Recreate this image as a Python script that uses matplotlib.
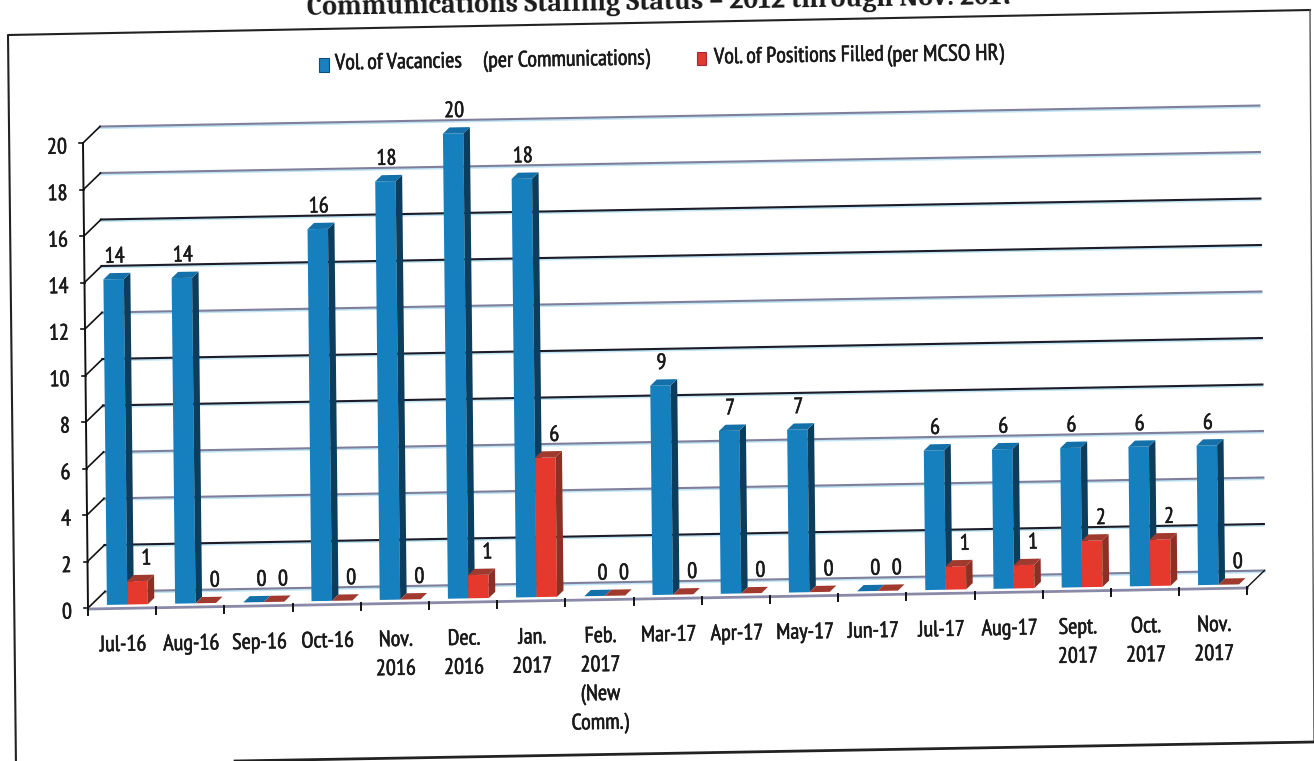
"""Communications staffing chart: vacancies against positions filled, drawn as skewed 3D columns."""

import matplotlib
matplotlib.use('Agg')
import matplotlib.pyplot as plt
import matplotlib.patheffects as pe
from matplotlib.patches import Polygon

months = ['Jul-16', 'Aug-16', 'Sep-16', 'Oct-16', 'Nov.\n2016', 'Dec.\n2016', 'Jan.\n2017',
          'Feb.\n2017\n(New\nComm.)', 'Mar-17', 'Apr-17', 'May-17', 'Jun-17', 'Jul-17', 'Aug-17',
          'Sept.\n2017', 'Oct.\n2017', 'Nov.\n2017']
vacancies = [14, 14, 0, 16, 18, 20, 18, 0, 9, 7, 7, 0, 6, 6, 6, 6, 6]
filled = [1, 0, 0, 0, 0, 1, 6, 0, 0, 0, 0, 0, 1, 1, 2, 2, 0]
y_ticks = list(range(0, 21, 2))
dark_grid = [2, 8, 10, 14, 16]

plt.rcParams['font.family'] = ['PT Sans Narrow', 'Liberation Sans', 'DejaVu Sans']

# The page was scanned slightly crooked, so everything goes through one projection
ORIGIN = (88.0, 608.0)
CAT_STEP = (68.2, -1.235)
VAL_STEP = (-0.25, -23.25)
DEPTH = (17.0, -16.5)
TILT = 1.0
TEXT = '#1a1a1a'
FS = 16


def project(cat, val=0.0, depth=0.0):
    x = ORIGIN[0] + cat * CAT_STEP[0] + val * VAL_STEP[0] + depth * DEPTH[0]
    y = ORIGIN[1] + cat * CAT_STEP[1] + val * VAL_STEP[1] + depth * DEPTH[1]
    return x, y


def draw_column(ax, cat, width, val, front, side, top):
    d0, d1 = 0.17, 0.55
    a = project(cat, 0, d0)
    b = project(cat + width, 0, d0)
    c = project(cat + width, val, d0)
    e = project(cat, val, d0)
    b2 = project(cat + width, 0, d1)
    c2 = project(cat + width, val, d1)
    e2 = project(cat, val, d1)
    if val > 0:
        ax.add_patch(Polygon([a, b, c, e], facecolor=front, edgecolor='none', zorder=5))
        ax.add_patch(Polygon([b, b2, c2, c], facecolor=side, edgecolor='none', zorder=5))
    ax.add_patch(Polygon([e, c, c2, e2], facecolor=top, edgecolor='none', zorder=5))


def tilted(ax, x, y, s, **kw):
    kw.setdefault('fontsize', FS)
    kw.setdefault('va', 'center')
    kw.setdefault('zorder', 6)
    t = ax.text(x, y, s, rotation=TILT, rotation_mode='anchor', color=TEXT, **kw)
    # a hairline stroke thickens the narrow face a little
    t.set_path_effects([pe.withStroke(linewidth=0.4, foreground=TEXT)])


fig = plt.figure(figsize=(13.14, 7.61), dpi=100)
ax = fig.add_axes([0, 0, 1, 1])
ax.set_xlim(0, 1314)
ax.set_ylim(761, 0)
ax.axis('off')

# Outer frame and title
ax.plot([16, 8, 1310], [768, 35, 10], color='#222222', lw=1.5, zorder=1)
ax.plot([1310, 1314], [10, 742], color='#555555', lw=1.0, zorder=1)
ax.plot([235, 1314], [761, 742], color='#222222', lw=2.0, zorder=1)
ax.text(661, 2, 'Communications Staffing Status – 2012 through Nov. 2017',
        family=['Caladea', 'Liberation Serif'], fontweight='bold', fontsize=20,
        ha='center', va='center', rotation=0.9, rotation_mode='anchor', color=TEXT)

# Legend
ax.add_patch(Polygon([(319, 58), (329, 58), (329, 72), (319, 72)], facecolor='#1a80bf', edgecolor='#0b4f7a', lw=0.8))
ax.add_patch(Polygon([(697, 52), (706, 52), (706, 65), (697, 65)], facecolor='#e0392f', edgecolor='#a02a3a', lw=0.8))
tilted(ax, 335, 64, 'Vol. of Vacancies')
tilted(ax, 483, 62, '(per Communications)')
tilted(ax, 714, 58, 'Vol. of Positions Filled')
tilted(ax, 887, 56, '(per MCSO HR)', fontsize=16.5)

# Back wall gridlines and the little connectors to the value axis
n = len(months)
for v in y_ticks:
    x0, y0 = project(0, v, 0)
    x1, y1 = project(0, v, 1)
    x2, y2 = project(n, v, 1)
    colour = '#1c1c28' if v in dark_grid else '#7f7f9c'
    ax.plot([x1, x2], [y1 + 1.5, y2 + 1.5], color='#bfe4f4', lw=1.5, zorder=2)
    ax.plot([x1, x2], [y1, y2], color=colour, lw=1.5, zorder=3)
    ax.plot([x0, x1], [y0, y1], color='#111111', lw=1.2, zorder=3)
    ax.plot([x0 - 4, x0], [y0, y0], color='#111111', lw=1.2, zorder=3)
    tilted(ax, x0 - 16, y0 + 5, str(v), ha='right')

# Value axis, floor edges and category ticks
p0, p1 = project(0, 0), project(0, 20)
ax.plot([p0[0], p1[0]], [p0[1], p1[1]], color='#111111', lw=1.4, zorder=3)
p2, p3 = project(n, 0), project(n, 0, 1)
ax.plot([p0[0], p2[0]], [p0[1] + 1, p2[1] + 1], color='#8a8aa8', lw=2.0, zorder=3)
ax.plot([p2[0], p3[0]], [p2[1], p3[1]], color='#111111', lw=1.0, zorder=3)
for i in range(n + 1):
    tx, ty = project(i, 0)
    ax.plot([tx, tx], [ty, ty + 7], color='#111111', lw=1.4, zorder=4)

# Columns and their value labels
bar_w = 0.30
bar_start = 0.235
for i, (vac, fil) in enumerate(zip(vacancies, filled)):
    draw_column(ax, i + bar_start, bar_w, vac, '#1580bd', '#0c3d5c', '#1470a8')
    draw_column(ax, i + bar_start + bar_w, bar_w, fil, '#e5392e', '#8c3026', '#a03a2e')

    bx, by = project(i + bar_start + bar_w / 2, vac, 0.17)
    tilted(ax, bx + (8 if vac == 0 else 1), by - 22, str(vac), ha='center')
    rx, ry = project(i + bar_start + bar_w * 1.5, fil, 0.17)
    tilted(ax, rx + 9, ry - 22, str(fil), ha='center')

    # Category label, one text per line so the spacing stays wide
    cx, cy = project(i + 0.5, 0)
    for k, line in enumerate(months[i].split('\n')):
        tilted(ax, cx + 1, cy + 38 + k * 29, line, ha='center')

fig.savefig('out.png', dpi=100)
